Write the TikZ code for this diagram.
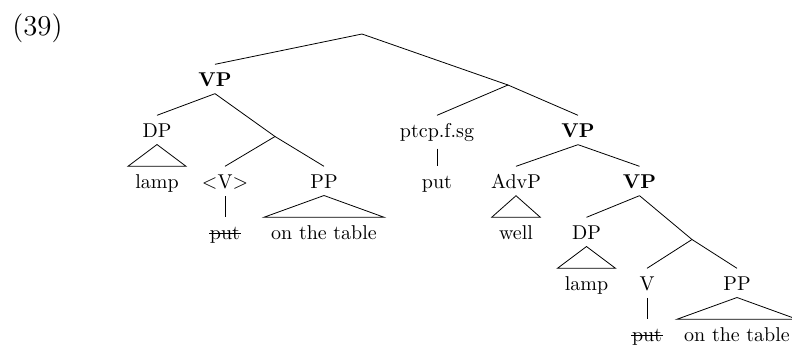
\documentclass[tikz,border=0pt]{standalone}
\newcommand{\strk}[1]{\leavevmode\setbox0\hbox{#1}\rlap{\kern-0.4pt\rule[2.9pt]{\dimexpr\wd0+0.8pt\relax}{0.4pt}}\box0}
\begin{document}
\begin{tikzpicture}[x=0.5pt,y=-0.5pt,
  lab/.style={anchor=base, inner xsep=3.5pt, inner ysep=3.3pt, text height=7.6pt}]
\useasboundingbox (0,0) rectangle (792,344);
\clip (0,0) rectangle (792,344);
\node[anchor=base west, inner sep=0pt] (num) at (12,35) {\Large (39)};
% branch points
\coordinate (root) at (362,34);
\coordinate (r1) at (508,85);
\coordinate (b1) at (275,136.5);
\coordinate (b2) at (692,239.5);
% labels
\node[lab] (vp1) at (215,86.5) {\textbf{VP}};
\node[lab] (dp1) at (157,137.5) {DP};
\node[lab] (lamp1) at (157,188.5) {lamp};
\node[lab] (v1) at (225,188.5) {$<$V$>$};
\node[lab] (put1) at (225,239.5) {\strk{put}};
\node[lab] (pp1) at (324,188.5) {PP};
\node[lab] (tab1) at (324,239.5) {on the table};
\node[lab] (ptcp) at (437,137.5) {ptcp.f.sg};
\node[lab] (put2) at (437,188.5) {put};
\node[lab] (vp2) at (578,137.5) {\textbf{VP}};
\node[lab] (advp) at (516,188.5) {AdvP};
\node[lab] (well) at (516,239.5) {well};
\node[lab] (vp3) at (639.5,188.5) {\textbf{VP}};
\node[lab] (dp2) at (586.5,239.5) {DP};
\node[lab] (lamp2) at (586.5,290.5) {lamp};
\node[lab] (v2) at (647,290.5) {V};
\node[lab] (put3) at (647,341.5) {\strk{put}};
\node[lab] (pp2) at (737,290.5) {PP};
\node[lab] (tab2) at (737,341.5) {on the table};
% edges
\draw (vp1.north) -- (root) -- (r1);
\draw (r1) -- (ptcp.north);
\draw (r1) -- (vp2.north);
\draw (vp1.south) -- (dp1.north);
\draw (vp1.south) -- (b1);
\draw (b1) -- (v1.north);
\draw (b1) -- (pp1.north);
\draw (dp1.south) -- (lamp1.north west) -- (lamp1.north east) -- cycle;
\draw (v1.south) -- (put1.north);
\draw (pp1.south) -- (tab1.north west) -- (tab1.north east) -- cycle;
\draw (ptcp.south) -- (put2.north);
\draw (vp2.south) -- (advp.north);
\draw (vp2.south) -- (vp3.north);
\draw (advp.south) -- (well.north west) -- (well.north east) -- cycle;
\draw (vp3.south) -- (dp2.north);
\draw (vp3.south) -- (b2);
\draw (dp2.south) -- (lamp2.north west) -- (lamp2.north east) -- cycle;
\draw (b2) -- (v2.north);
\draw (b2) -- (pp2.north);
\draw (v2.south) -- (put3.north);
\draw (pp2.south) -- (tab2.north west) -- (tab2.north east) -- cycle;
\end{tikzpicture}
\end{document}
